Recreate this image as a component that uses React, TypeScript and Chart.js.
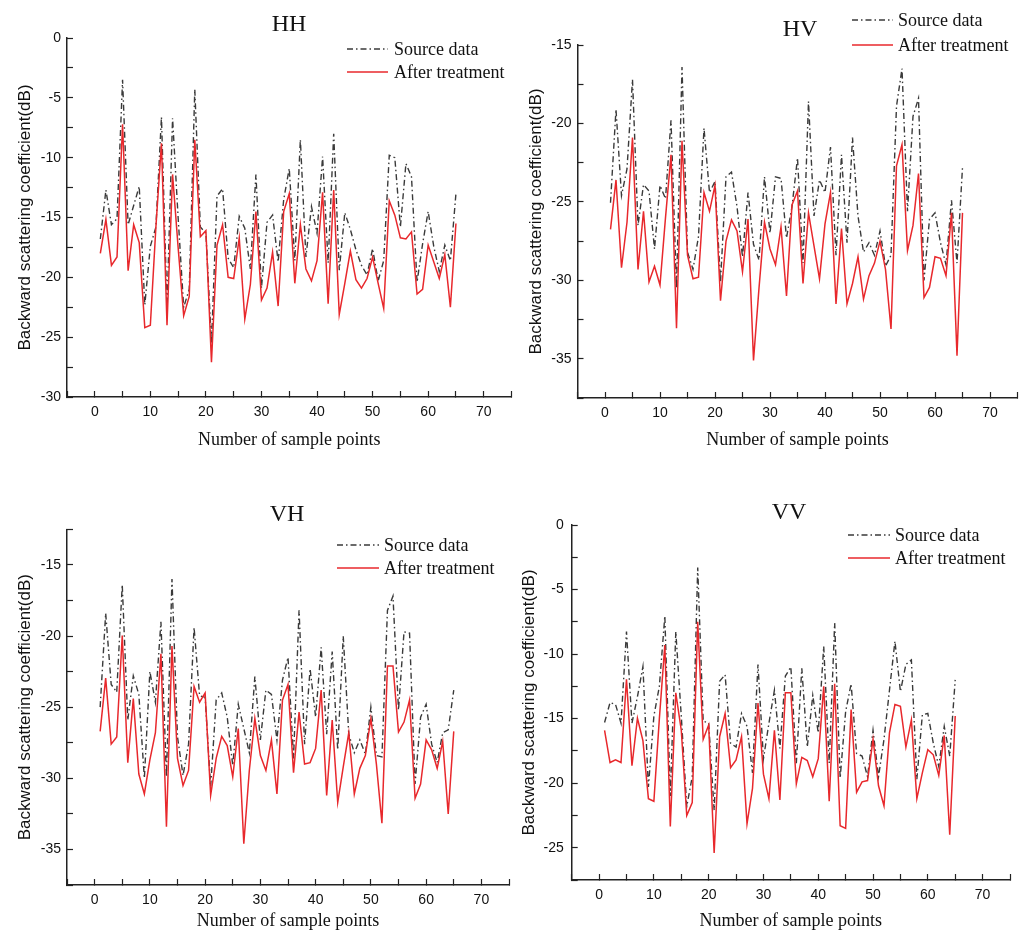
import React, { useEffect, useRef } from 'react';
import { Chart, registerables } from 'chart.js';

Chart.register(...registerables);

// ---------------- data ----------------
const samplePoints = [
  1, 2, 3, 4, 5, 6, 7, 8, 9, 10, 11, 12, 13, 14, 15, 16, 17, 18, 19, 20,
  21, 22, 23, 24, 25, 26, 27, 28, 29, 30, 31, 32, 33, 34, 35, 36, 37, 38, 39, 40,
  41, 42, 43, 44, 45, 46, 47, 48, 49, 50, 51, 52, 53, 54, 55, 56, 57, 58, 59, 60,
  61, 62, 63, 64, 65,
];

const legendLabels = ['Source data', 'After treatment'];
const xAxisTitle = 'Number of sample points';
const yAxisTitle = 'Backward scattering coefficient(dB)';

const hhSource = [
  -16.8, -12.7, -15.6, -15.1, -3.5, -15.6, -14.0, -12.4, -22.3, -17.4,
  -15.8, -6.6, -22.5, -6.7, -15.0, -22.5, -21.0, -4.3, -15.8, -16.3,
  -25.5, -13.2, -12.6, -18.4, -19.2, -14.9, -15.9, -19.3, -11.4, -20.9,
  -15.4, -14.8, -18.7, -13.5, -10.9, -18.6, -8.5, -18.3, -14.1, -16.3,
  -9.9, -18.8, -8.0, -19.4, -14.6, -16.0, -17.7, -19.0, -19.8, -17.6,
  -20.3, -18.6, -9.8, -10.0, -15.8, -10.5, -11.6, -20.4, -17.2, -14.5,
  -17.4, -19.5, -17.3, -18.6, -13.0,
];
const hhAfter = [
  -18.0, -15.15, -19.0, -18.3, -7.2, -19.45, -15.6, -17.1, -24.2, -24.0,
  -15.8, -8.8, -24.0, -11.4, -17.5, -23.2, -21.6, -8.5, -16.6, -16.1,
  -27.1, -17.3, -15.6, -20.0, -20.1, -16.7, -23.5, -20.6, -14.5, -21.9,
  -20.9, -17.9, -22.4, -14.5, -13.0, -20.5, -15.6, -19.3, -20.3, -18.6,
  -12.9, -22.2, -12.7, -23.1, -20.5, -17.8, -20.2, -20.9, -20.1, -18.3,
  -20.5, -22.6, -13.6, -14.8, -16.7, -16.8, -16.2, -21.4, -21.0, -17.3,
  -18.7, -20.1, -18.1, -22.5, -15.5,
];

const hvSource = [
  -25.05, -19.1, -24.6, -22.9, -17.2, -26.5, -23.9, -24.3, -28.0, -23.95,
  -24.8, -19.8, -30.5, -16.4, -28.2, -29.3, -27.2, -20.3, -24.4, -23.7,
  -30.1, -23.4, -23.1, -25.3, -28.5, -24.4, -27.7, -28.7, -23.4, -27.0,
  -23.4, -23.5, -27.3, -25.3, -22.2, -28.9, -18.6, -25.9, -23.6, -24.4,
  -21.5, -28.4, -22.0, -27.6, -20.9, -25.9, -28.2, -27.6, -28.4, -26.85,
  -29.1, -28.4, -18.9, -16.5, -25.6, -19.55, -18.4, -30.0, -26.1, -25.7,
  -27.6, -29.0, -24.9, -28.9, -22.8,
];
const hvAfter = [
  -26.75, -23.6, -29.2, -26.3, -20.9, -29.3, -25.6, -30.1, -29.1, -30.3,
  -26.0, -22.0, -33.05, -21.1, -28.4, -29.9, -29.8, -24.4, -25.6, -23.95,
  -31.3, -27.5, -26.15, -26.85, -29.45, -26.1, -35.1, -30.5, -26.3, -28.0,
  -29.0, -26.6, -31.0, -25.2, -24.3, -30.2, -25.7, -27.8, -29.9, -26.4,
  -24.4, -31.5, -26.7, -31.5, -30.2, -28.5, -31.2, -29.7, -28.9, -27.5,
  -29.3, -33.1, -22.7, -21.35, -28.1, -26.5, -23.2, -31.1, -30.45, -28.5,
  -28.6, -29.7, -25.7, -34.8, -25.7,
];

const vhSource = [
  -25.0, -18.4, -23.4, -23.95, -16.4, -25.9, -22.8, -24.1, -30.0, -22.5,
  -24.65, -19.0, -29.9, -16.0, -27.1, -29.8, -27.6, -19.4, -24.2, -24.3,
  -30.6, -24.5, -24.0, -25.7, -29.1, -24.8, -26.5, -28.2, -22.85, -27.3,
  -23.8, -24.1, -27.3, -23.1, -21.5, -28.6, -18.2, -27.6, -22.3, -25.7,
  -20.8, -26.9, -21.1, -28.0, -20.0, -26.9, -28.2, -27.3, -28.3, -25.0,
  -28.4, -28.5, -18.2, -17.2, -25.2, -19.7, -19.8, -30.4, -25.7, -24.8,
  -27.6, -28.9, -26.8, -26.6, -23.8,
];
const vhAfter = [
  -26.7, -22.96, -27.6, -27.1, -19.96, -28.9, -24.4, -29.7, -31.1, -28.7,
  -26.8, -21.25, -33.4, -20.7, -28.6, -30.5, -29.45, -23.55, -24.65, -24.0,
  -31.2, -28.6, -27.05, -27.7, -29.9, -26.5, -34.6, -29.45, -25.8, -28.4,
  -29.45, -27.3, -31.1, -24.5, -23.4, -29.6, -25.35, -29.0, -28.9, -27.9,
  -23.8, -31.2, -25.9, -31.7, -29.2, -26.8, -31.1, -29.3, -28.4, -25.8,
  -29.0, -33.15, -22.1, -22.1, -26.75, -26.05, -24.5, -31.4, -30.4, -27.3,
  -28.0, -29.3, -27.4, -32.5, -26.7,
];

const vvSource = [
  -15.3, -13.75, -13.9, -15.35, -8.26, -15.35, -13.3, -10.97, -20.3, -14.8,
  -12.5, -7.05, -21.0, -8.26, -14.8, -21.8, -19.5, -3.3, -15.2, -15.35,
  -22.1, -12.1, -11.6, -16.9, -17.2, -14.6, -15.6, -19.2, -10.8, -18.1,
  -15.35, -12.8, -17.3, -11.7, -11.0, -18.45, -11.1, -17.2, -13.2, -16.1,
  -9.4, -18.45, -7.6, -19.6, -14.45, -12.3, -17.7, -17.9, -19.5, -15.9,
  -19.5, -16.6, -12.8, -9.0, -12.9, -10.8, -10.45, -19.7, -14.7, -14.6,
  -16.9, -18.7, -15.6, -17.9, -12.0,
];
const vvAfter = [
  -15.9, -18.4, -18.2, -18.4, -11.95, -18.65, -14.97, -16.7, -21.2, -21.4,
  -15.0, -9.3, -23.35, -13.0, -15.9, -22.5, -21.5, -7.5, -16.6, -15.5,
  -25.4, -16.4, -14.6, -18.8, -18.2, -16.4, -23.15, -20.4, -13.8, -19.3,
  -21.2, -15.9, -21.3, -13.0, -13.0, -20.05, -18.0, -18.25, -19.5, -18.1,
  -12.5, -21.4, -12.3, -23.3, -23.5, -14.3, -20.7, -19.9, -19.8, -16.6,
  -20.2, -21.75, -16.1, -13.9, -14.05, -17.2, -15.1, -21.2, -19.2, -17.4,
  -17.8, -19.4, -16.3, -24.0, -14.8,
];

// tick values (every minor tick; labels only on majors)
const xTicks = [-5, 0, 5, 10, 15, 20, 25, 30, 35, 40, 45, 50, 55, 60, 65, 70, 75];
const hhYTicks = [-30, -27.5, -25, -22.5, -20, -17.5, -15, -12.5, -10, -7.5, -5, -2.5, 0];
const hvYTicks = [-37.5, -35, -32.5, -30, -27.5, -25, -22.5, -20, -17.5, -15];
const vhYTicks = [-37.5, -35, -32.5, -30, -27.5, -25, -22.5, -20, -17.5, -15, -12.5];
const vvYTicks = [-27.5, -25, -22.5, -20, -17.5, -15, -12.5, -10, -7.5, -5, -2.5, 0];

// ---------------- styling / layout ----------------
const SERIF = "'Liberation Serif', 'Times New Roman', serif";
const SANS = "'Liberation Sans', Arial, sans-serif";
const SOURCE_COLOR = '#3a3a3a';
const AFTER_COLOR = '#e8282c';
const AXIS_COLOR = '#222222';
const TEXT_COLOR = '#111111';

type Box = { left: number; top: number; width: number; height: number };
type Area = { left: number; top: number; right: number; bottom: number };
type PanelCfg = {
  title: string;
  source: number[];
  after: number[];
  yTicks: number[];
  box: Box;
  area: Area;
  xH: number;
  yTitleX: number;
  xTitleY: number;
  titleX: number;
  titleY: number;
  legend: { x1: number; x2: number; tx: number; y1: number; y2: number };
  yLabelGap: number;
};

const panels: PanelCfg[] = [
  {
    title: 'HH', source: hhSource, after: hhAfter, yTicks: hhYTicks,
    box: { left: 0, top: 0, width: 515, height: 468 },
    area: { left: 67, top: 38, right: 511.5, bottom: 397 },
    xH: 58, yTitleX: 25, xTitleY: 440, titleX: 289, titleY: 25,
    legend: { x1: 347, x2: 388, tx: 394, y1: 49, y2: 72 }, yLabelGap: 6,
  },
  {
    title: 'HV', source: hvSource, after: hvAfter, yTicks: hvYTicks,
    box: { left: 515, top: 0, width: 510, height: 468 },
    area: { left: 577.5, top: 45, right: 1017.5, bottom: 398 },
    xH: 58, yTitleX: 536.5, xTitleY: 440, titleX: 800, titleY: 30,
    legend: { x1: 852, x2: 893, tx: 898, y1: 20, y2: 45 }, yLabelGap: 6,
  },
  {
    title: 'VH', source: vhSource, after: vhAfter, yTicks: vhYTicks,
    box: { left: 0, top: 468, width: 515, height: 468 },
    area: { left: 67, top: 529.3, right: 509, bottom: 885 },
    xH: 50, yTitleX: 25, xTitleY: 921, titleX: 287, titleY: 515,
    legend: { x1: 337, x2: 379, tx: 384, y1: 545, y2: 568 }, yLabelGap: 6,
  },
  {
    title: 'VV', source: vvSource, after: vvAfter, yTicks: vvYTicks,
    box: { left: 515, top: 468, width: 510, height: 468 },
    area: { left: 571.7, top: 525, right: 1010, bottom: 880 },
    xH: 54, yTitleX: 529.5, xTitleY: 921, titleX: 789, titleY: 513,
    legend: { x1: 848, x2: 890, tx: 895, y1: 535, y2: 558 }, yLabelGap: 8,
  },
];

const TICK_LEN = -6; // inward ticks

function PanelChart({ p }: { p: PanelCfg }) {
  const ref = useRef<HTMLCanvasElement | null>(null);

  useEffect(() => {
    const canvas = ref.current;
    if (!canvas) return;
    const { box, area } = p;
    const rel = {
      left: area.left - box.left,
      top: area.top - box.top,
      right: area.right - box.left,
      bottom: area.bottom - box.top,
    };
    const yTitleSize = 17;
    const xTitleSize = 18;
    const yTitleLH = yTitleSize * 1.2;
    const xTitleLH = xTitleSize * 1.2;

    const overlay = {
      id: 'panelOverlay',
      afterDraw(chart: any) {
        const ctx = chart.ctx as CanvasRenderingContext2D;
        ctx.save();
        // panel title
        ctx.fillStyle = TEXT_COLOR;
        ctx.font = `24px ${SERIF}`;
        ctx.textAlign = 'center';
        ctx.textBaseline = 'middle';
        ctx.fillText(p.title, p.titleX - box.left, p.titleY - box.top);
        // legend
        const rows = [p.legend.y1, p.legend.y2];
        chart.data.datasets.forEach((ds: any, i: number) => {
          const y = rows[i] - box.top;
          ctx.beginPath();
          ctx.strokeStyle = ds.borderColor;
          ctx.lineWidth = ds.borderWidth;
          ctx.setLineDash(ds.borderDash || []);
          ctx.moveTo(p.legend.x1 - box.left, y);
          ctx.lineTo(p.legend.x2 - box.left, y);
          ctx.stroke();
          ctx.setLineDash([]);
          ctx.fillStyle = TEXT_COLOR;
          ctx.font = `18px ${SERIF}`;
          ctx.textAlign = 'left';
          ctx.textBaseline = 'middle';
          ctx.fillText(ds.label, p.legend.tx - box.left, y + 1);
        });
        ctx.restore();
      },
    };

    const chart = new Chart(canvas, {
      type: 'line',
      data: {
        datasets: [
          {
            label: legendLabels[0],
            data: samplePoints.map((x, i) => ({ x, y: p.source[i] })),
            borderColor: SOURCE_COLOR,
            borderWidth: 1.4,
            borderDash: [6, 3, 1.5, 3],
            pointRadius: 0,
            fill: false,
            tension: 0,
            order: 2,
          },
          {
            label: legendLabels[1],
            data: samplePoints.map((x, i) => ({ x, y: p.after[i] })),
            borderColor: AFTER_COLOR,
            borderWidth: 1.5,
            pointRadius: 0,
            fill: false,
            tension: 0,
            order: 1,
          },
        ],
      },
      options: {
        responsive: false,
        animation: false,
        events: [],
        layout: {
          padding: {
            left: 0,
            top: rel.top,
            right: box.width - rel.right,
            bottom: box.height - rel.bottom - p.xH,
          },
        },
        plugins: {
          legend: { display: false },
          title: { display: false },
          tooltip: { enabled: false },
        },
        scales: {
          x: {
            type: 'linear',
            position: 'bottom',
            min: -5,
            max: 75,
            afterBuildTicks: (s: any) => {
              s.ticks = xTicks.map((v) => ({ value: v }));
            },
            afterFit: (s: any) => {
              s.height = p.xH;
              s.paddingLeft = 0;
              s.paddingRight = 0;
            },
            grid: {
              display: true,
              drawOnChartArea: false,
              drawTicks: true,
              tickLength: TICK_LEN,
              tickColor: AXIS_COLOR,
              tickWidth: 1.2,
            },
            border: { display: true, color: AXIS_COLOR, width: 1.5 },
            ticks: {
              autoSkip: false,
              maxRotation: 0,
              minRotation: 0,
              padding: 13,
              color: TEXT_COLOR,
              font: { family: SANS, size: 14 },
              callback: (v: any) => (Number(v) % 10 === 0 ? String(v) : ''),
            },
            title: {
              display: true,
              text: xAxisTitle,
              color: TEXT_COLOR,
              font: { family: SERIF, size: xTitleSize },
              padding: {
                top: 0,
                bottom: rel.bottom + p.xH - xTitleLH / 2 - (p.xTitleY - box.top),
              },
            },
          },
          y: {
            type: 'linear',
            position: 'left',
            min: p.yTicks[0],
            max: p.yTicks[p.yTicks.length - 1],
            afterBuildTicks: (s: any) => {
              s.ticks = p.yTicks.map((v) => ({ value: v }));
            },
            afterFit: (s: any) => {
              s.width = rel.left;
              s.paddingTop = 0;
              s.paddingBottom = 0;
            },
            grid: {
              display: true,
              drawOnChartArea: false,
              drawTicks: true,
              tickLength: TICK_LEN,
              tickColor: AXIS_COLOR,
              tickWidth: 1.2,
            },
            border: { display: true, color: AXIS_COLOR, width: 1.5 },
            ticks: {
              autoSkip: false,
              padding: p.yLabelGap - TICK_LEN,
              color: TEXT_COLOR,
              font: { family: SANS, size: 14 },
              callback: (v: any) => (Number(v) % 5 === 0 ? String(v) : ''),
            },
            title: {
              display: true,
              text: yAxisTitle,
              color: TEXT_COLOR,
              font: { family: SANS, size: yTitleSize },
              padding: { top: p.yTitleX - box.left - yTitleLH / 2, bottom: 0 },
            },
          },
        },
      } as any,
      plugins: [overlay],
    });

    return () => {
      chart.destroy();
    };
  }, [p]);

  return (
    <canvas
      ref={ref}
      width={p.box.width}
      height={p.box.height}
      style={{
        position: 'absolute',
        left: p.box.left,
        top: p.box.top,
        width: p.box.width,
        height: p.box.height,
      }}
    />
  );
}

export default function App() {
  return (
    <div
      style={{
        position: 'absolute',
        left: 0,
        top: 0,
        width: 1025,
        height: 936,
        background: '#ffffff',
        overflow: 'hidden',
      }}
    >
      {panels.map((p) => (
        <PanelChart key={p.title} p={p} />
      ))}
    </div>
  );
}
